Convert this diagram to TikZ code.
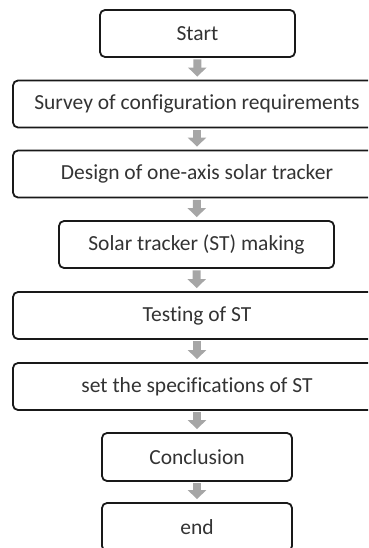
\documentclass[tikz,border=0pt]{standalone}
\usepackage{fontspec}
\setmainfont[Ligatures=NoCommon]{Carlito}
\usetikzlibrary{arrows.meta}
\begin{document}
\begin{tikzpicture}[x=1pt,y=-1pt,
	box/.style={draw=black!90,line width=1.8pt,rounded corners=5pt,inner sep=0pt,
		text=black!80,font=\fontsize{21.5}{25}\selectfont,minimum height=47pt},
	wide/.style={box,minimum width=368pt},
	flow/.style={line width=8pt,black!35,shorten <=1.5pt,shorten >=3pt,
		-{Triangle[width=18pt,length=9pt]}}]
	\clip (0,0) rectangle (368,548);
	\node[box,minimum width=195pt] (start) at (197.5,33.5) {Start};
	\node[wide] (survey) at (197,104) {Survey of configuration requirements};
	\node[wide] (design) at (197,174) {Design of one-axis solar tracker};
	\node[box,minimum width=275pt] (making) at (196.5,244.5) {Solar tracker (ST) making};
	\node[wide] (testing) at (197,315.5) {Testing of ST};
	\node[wide] (specs) at (197,386.5) {set the specifications of ST};
	\node[box,minimum width=190pt,minimum height=48pt] (concl) at (197,457) {Conclusion};
	\node[box,minimum width=190pt,minimum height=48pt] (end) at (197,527) {end};
	\draw[flow] (start) -- (survey);
	\draw[flow] (survey) -- (design);
	\draw[flow] (design) -- (making);
	\draw[flow] (making) -- (testing);
	\draw[flow] (testing) -- (specs);
	\draw[flow] (specs) -- (concl);
	\draw[flow] (concl) -- (end);
\end{tikzpicture}
\end{document}
